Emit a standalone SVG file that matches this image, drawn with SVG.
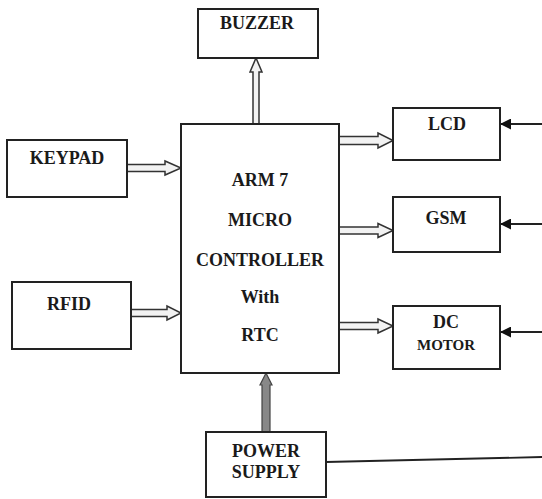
<svg xmlns="http://www.w3.org/2000/svg" width="542" height="499" viewBox="0 0 542 499">
<defs>
<style>
.box{fill:#fff;stroke:#222;stroke-width:2}
.lbl{font-family:"Liberation Serif","Times New Roman",serif;font-weight:bold;font-size:18px;fill:#1a1a1a;text-anchor:middle}
.sm{font-size:15px}
.ha{fill:#f2f2f2;stroke:#333;stroke-width:1.5;stroke-linejoin:miter}
.pa{fill:#888;stroke:#444;stroke-width:1.2}
.ln{fill:none;stroke:#222;stroke-width:1.8}
</style>
<marker id="fa" viewBox="0 0 10 10" refX="10" refY="5" markerWidth="12" markerHeight="11" markerUnits="userSpaceOnUse" orient="auto">
<path d="M0,0 L10,5 L0,10 Z" fill="#111"/>
</marker>
</defs>
<rect width="542" height="499" fill="#fff"/>
<g id="connectors">
<path class="ha" d="M253,124 L253,72 L250,72 L256,58 L262,72 L259,72 L259,124 Z"/>
<path class="ha" d="M127,164.5 L165,164.5 L165,161 L181,168 L165,175 L165,171.5 L127,171.5 Z"/>
<path class="ha" d="M131,309.5 L167,309.5 L167,306 L181,313 L167,320 L167,316.5 L131,316.5 Z"/>
<path class="ha" d="M339,136.5 L378,136.5 L378,133 L393,140.5 L378,148 L378,144.5 L339,144.5 Z"/>
<path class="ha" d="M339,227 L378,227 L378,223.5 L393,230.5 L378,237.5 L378,234 L339,234 Z"/>
<path class="ha" d="M339,322.5 L378,322.5 L378,319 L393,326 L378,333 L378,329.5 L339,329.5 Z"/>
<path class="pa" d="M262,432 L262,385 L260,385 L266,373 L272,385 L270,385 L270,432 Z"/>
<line class="ln" x1="542" y1="124" x2="500" y2="124" marker-end="url(#fa)"/>
<line class="ln" x1="542" y1="224" x2="500" y2="224" marker-end="url(#fa)"/>
<line class="ln" x1="542" y1="332" x2="500" y2="332" marker-end="url(#fa)"/>
<line class="ln" x1="326" y1="462" x2="542" y2="457" stroke="#444"/>
</g>
<g id="buzzer">
<rect class="box" x="198" y="9" width="120" height="49"/>
<text class="lbl" x="257" y="29">BUZZER</text>
</g>
<g id="keypad">
<rect class="box" x="7" y="140" width="120" height="57"/>
<text class="lbl" x="67" y="164">KEYPAD</text>
</g>
<g id="rfid">
<rect class="box" x="12" y="282" width="119" height="67"/>
<text class="lbl" x="69" y="310">RFID</text>
</g>
<g id="controller">
<rect class="box" x="181" y="124" width="158" height="249"/>
<text class="lbl" x="260" y="186">ARM 7</text>
<text class="lbl" x="260" y="226">MICRO</text>
<text class="lbl" x="260" y="266">CONTROLLER</text>
<text class="lbl" x="260" y="303">With</text>
<text class="lbl" x="260" y="341">RTC</text>
</g>
<g id="lcd">
<rect class="box" x="393" y="108" width="107" height="52"/>
<text class="lbl" x="447" y="130">LCD</text>
</g>
<g id="gsm">
<rect class="box" x="393" y="197" width="107" height="55"/>
<text class="lbl" x="446" y="224">GSM</text>
</g>
<g id="dcmotor">
<rect class="box" x="393" y="306" width="107" height="63"/>
<text class="lbl" x="446" y="328">DC</text>
<text class="lbl sm" x="446" y="350">MOTOR</text>
</g>
<g id="power">
<rect class="box" x="206" y="432" width="120" height="65"/>
<text class="lbl" x="266" y="457">POWER</text>
<text class="lbl" x="266" y="478">SUPPLY</text>
</g>
</svg>
